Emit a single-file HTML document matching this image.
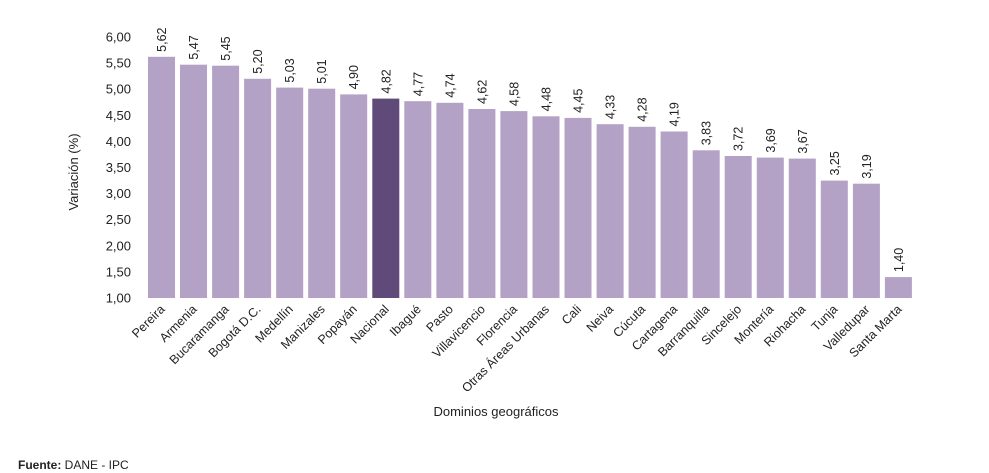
<!DOCTYPE html>
<html><head><meta charset="utf-8">
<style>
html,body{margin:0;padding:0;background:#fff;}
svg{display:block;font-family:"Segoe UI","Liberation Sans","DejaVu Sans",sans-serif;}
</style></head>
<body>
<svg id="c" width="989" height="473" viewBox="0 0 989 473" xmlns="http://www.w3.org/2000/svg">
<text x="72" y="166" font-size="13" fill="#222" text-anchor="middle" transform="rotate(-90 78 166)">Variación (%)</text>
<text x="496" y="416" font-size="13" fill="#222" text-anchor="middle">Dominios geográficos</text>
<text x="18" y="469" font-size="12" fill="#222"><tspan font-weight="bold">Fuente:</tspan> DANE - IPC</text>
</svg>
<script>
var d=[["Pereira",5.62],["Armenia",5.47],["Bucaramanga",5.45],["Bogotá D.C.",5.20],["Medellín",5.03],["Manizales",5.01],["Popayán",4.90],["Nacional",4.82],["Ibagué",4.77],["Pasto",4.74],["Villavicencio",4.62],["Florencia",4.58],["Otras Áreas Urbanas",4.48],["Cali",4.45],["Neiva",4.33],["Cúcuta",4.28],["Cartagena",4.19],["Barranquilla",3.83],["Sincelejo",3.72],["Montería",3.69],["Riohacha",3.67],["Tunja",3.25],["Valledupar",3.19],["Santa Marta",1.40]];
var s=document.getElementById('c'),h='';
function Y(v){return 298-(v-1)*52.2;}
for(var t=1;t<=6.001;t+=0.5){h+='<text x="131" y="'+(Y(t)+4.5)+'" font-size="13" fill="#222" text-anchor="end">'+t.toFixed(2).replace('.',',')+'</text>';}
d.forEach(function(e,i){
 var x=148+i*32.04,y=Y(e[1]),cx=x+13.5;
 var col=e[0]=="Nacional"?"#5f4a7a":"#b3a1c6";
 h+='<rect x="'+x.toFixed(1)+'" y="'+y.toFixed(1)+'" width="27" height="'+(298-y).toFixed(1)+'" fill="'+col+'"/>';
 h+='<text x="'+(cx+4.5)+'" y="'+(y-5)+'" font-size="12.5" fill="#222" transform="rotate(-90 '+(cx+4.5)+' '+(y-5)+')">'+e[1].toFixed(2).replace('.',',')+'</text>';
 var lx=cx+4,ly=310;
 h+='<text x="'+lx+'" y="'+ly+'" font-size="12.5" fill="#222" text-anchor="end" transform="rotate(-45 '+lx+' '+ly+')">'+e[0]+'</text>';
});
s.insertAdjacentHTML('beforeend',h);
</script>
</body></html>
